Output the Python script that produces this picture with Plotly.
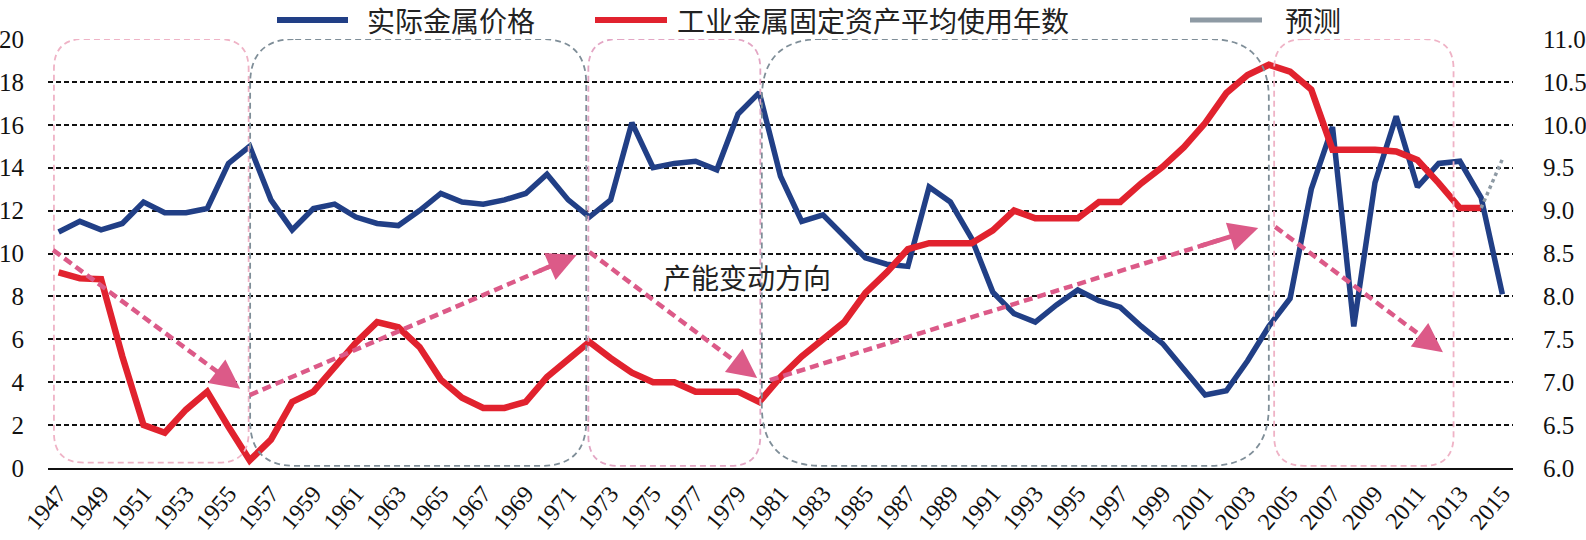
import plotly.graph_objects as go

years = list(range(1947, 2016))

metal_price = [11.0, 11.5, 11.1, 11.4, 12.4, 11.9, 11.9, 12.1, 14.2, 15.0,
               12.5, 11.1, 12.1, 12.3, 11.7, 11.4, 11.3, 12.0, 12.8, 12.4,
               12.3, 12.5, 12.8, 13.7, 12.5, 11.7, 12.5, 16.1, 14.0, 14.2,
               14.3, 13.9, 16.5, 17.5, 13.6, 11.5, 11.8, 10.8, 9.8, 9.5,
               9.4, 13.1, 12.4, 10.7, 8.2, 7.2, 6.8, 7.6, 8.3, 7.8,
               7.5, 6.6, 5.8, 4.6, 3.4, 3.6, 5.0, 6.6, 7.9, 13.0,
               15.9, 6.6, 13.3, 16.4, 13.1, 14.2, 14.3, 12.6, 8.1]

asset_age = [8.28, 8.21, 8.20, 7.30, 6.50, 6.41, 6.68, 6.89, 6.48, 6.09,
             6.33, 6.77, 6.89, 7.18, 7.46, 7.70, 7.64, 7.41, 7.03, 6.82,
             6.70, 6.70, 6.77, 7.06, 7.26, 7.47, 7.28, 7.11, 7.00, 7.00,
             6.89, 6.89, 6.89, 6.77, 7.06, 7.30, 7.49, 7.70, 8.04, 8.28,
             8.55, 8.62, 8.62, 8.62, 8.77, 9.00, 8.91, 8.91, 8.91, 9.10,
             9.10, 9.32, 9.51, 9.74, 10.02, 10.37, 10.58, 10.70, 10.62, 10.41,
             9.71, 9.71, 9.71, 9.69, 9.59, 9.32, 9.03, 9.03, None]

forecast_years = [2014, 2015]
forecast_vals = [9.03, 9.60]

tick_years = years[::2]
tick_labels = [str(y) for y in tick_years]

name_price = "实际金属价格"
name_age = "工业金属固定资产平均使用年数"
name_fc = "预测"
note_text = "产能变动方向"

# decoration boxes: (x0, x1, y0, y1, colour, corner radius px)
boxes = [
    (1946.78, 1955.95, 0.25, 20, "#EFB3C6", 30),
    (1956.02, 1971.85, 0.10, 20, "#7F8E98", 45),
    (1971.95, 1980.05, 0.10, 20, "#E3A6C4", 30),
    (1980.12, 2004.00, 0.10, 20, "#7F8E98", 60),
    (2004.25, 2012.70, 0.10, 20, "#EFB3C6", 30),
]
# direction arrows: (x_start, y_start, x_tip, y_tip)
arrows = [
    (1946.74, 10.16, 1955.55, 3.70),
    (1956.00, 3.40, 1971.40, 9.93),
    (1972.00, 10.07, 1979.90, 4.20),
    (1980.50, 4.10, 2003.50, 11.19),
    (2004.30, 11.24, 2012.20, 5.40),
]

BLUE = "#213F86"
RED = "#E1222E"
GRAY = "#8E9AA4"
ARROW = "#DC5A88"

PX_PER_YEAR = 21.23
PX_PER_UNIT = 21.45

fig = go.Figure()
fig.add_trace(go.Scatter(x=years, y=metal_price, name=name_price, mode="lines",
                         line=dict(color=BLUE, width=5.5), showlegend=False))
fig.add_trace(go.Scatter(x=years, y=asset_age, name=name_age, mode="lines",
                         line=dict(color=RED, width=6.5), yaxis="y2", showlegend=False))
fig.add_trace(go.Scatter(x=forecast_years, y=forecast_vals, name=name_fc, mode="lines",
                         line=dict(color=GRAY, width=3.5, dash="dot"), yaxis="y2",
                         showlegend=False))

shapes = []
for x0, x1, y0, y1, col, r in boxes:
    rx = r / PX_PER_YEAR
    ry = r / PX_PER_UNIT
    path = (f"M {x0+rx},{y1} L {x1-rx},{y1} Q {x1},{y1} {x1},{y1-ry} "
            f"L {x1},{y0+ry} Q {x1},{y0} {x1-rx},{y0} L {x0+rx},{y0} "
            f"Q {x0},{y0} {x0},{y0+ry} L {x0},{y1-ry} Q {x0},{y1} {x0+rx},{y1} Z")
    shapes.append(dict(type="path", path=path, xref="x", yref="y",
                       line=dict(color=col, width=1.8, dash="6px,4px")))

annotations = []
for xs, ys, xt, yt in arrows:
    dx = xt - xs
    dy = yt - ys
    f = 0.92
    shapes.append(dict(type="line", xref="x", yref="y", x0=xs, y0=ys,
                       x1=xs + dx * f, y1=ys + dy * f,
                       line=dict(color=ARROW, width=4.5, dash="9px,5px")))
    annotations.append(dict(x=xt, y=yt, ax=xs + dx * 0.88, ay=ys + dy * 0.88,
                            xref="x", yref="y", axref="x", ayref="y",
                            text="", showarrow=True, arrowhead=2, arrowsize=1.3,
                            arrowwidth=4.5, arrowcolor=ARROW, standoff=0))

annotations.append(dict(x=1979.4, y=8.9, xref="x", yref="y", text=note_text,
                        showarrow=False,
                        font=dict(family="Noto Sans CJK SC", size=28, color="#222222")))

# manual legend (paper coordinates)
def px_x(p):
    return (p - 48) / 1465.0

def px_y(p):
    return (468 - p) / 429.0

legend_items = [
    (277, 348, 365, BLUE, 6, name_price),
    (595, 667, 675, RED, 6, name_age),
    (1190, 1262, 1283, GRAY, 5, name_fc),
]
for lx0, lx1, tx, col, w, txt in legend_items:
    shapes.append(dict(type="line", xref="paper", yref="paper",
                       x0=px_x(lx0), x1=px_x(lx1), y0=px_y(20), y1=px_y(20),
                       line=dict(color=col, width=w)))
    annotations.append(dict(x=px_x(tx), y=px_y(19.5), xref="paper", yref="paper",
                            xanchor="left", yanchor="middle", text=txt, showarrow=False,
                            font=dict(family="Noto Sans CJK SC", size=28, color="#222222")))

SERIF = "Times New Roman, Liberation Serif, serif"
tick_font = dict(family=SERIF, size=25, color="#111111")

fig.update_layout(
    width=1586, height=540,
    margin=dict(l=48, r=73, t=39, b=72),
    paper_bgcolor="white", plot_bgcolor="white",
    showlegend=False,
    xaxis=dict(range=[1946.5, 2015.5], tickmode="array", tickvals=tick_years,
               ticktext=tick_labels, tickangle=-50, showgrid=False, zeroline=False,
               showline=True, linecolor="#111111", linewidth=2, ticks="",
               automargin=False,
               tickfont=dict(family=SERIF, size=24, color="#111111")),
    yaxis=dict(range=[0, 20], dtick=2, showgrid=True, gridcolor="#111111",
               griddash="5px,3px", gridwidth=1.6, zeroline=False, showline=False,
               ticks="outside", ticklen=18, tickcolor="rgba(0,0,0,0)",
               automargin=False, tickfont=tick_font),
    yaxis2=dict(range=[6, 11], dtick=0.5, tickformat=".1f", overlaying="y",
                side="right", showgrid=False, zeroline=False, showline=False,
                ticks="outside", ticklen=24, tickcolor="rgba(0,0,0,0)",
                automargin=False, tickfont=tick_font),
    shapes=shapes,
    annotations=annotations,
)

fig.write_html("out.html")
